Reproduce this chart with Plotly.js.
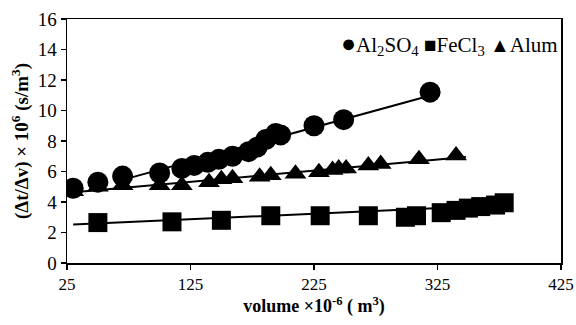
<!DOCTYPE html>
<html>
<head>
<meta charset="utf-8">
<script src="https://cdn.plot.ly/plotly-3.0.1.min.js"></script>
<style>html,body{margin:0;padding:0;background:#fff;}#chart{width:576px;height:325px;}</style>
</head>
<body>
<div id="chart"></div>
<script>
// Al2SO4 (circles)
const alX = [30, 50, 70, 100, 118, 128, 139, 148, 159, 172, 179, 186, 194, 198, 225, 249, 319];
const alY = [4.9, 5.3, 5.7, 5.9, 6.2, 6.4, 6.6, 6.8, 7.0, 7.3, 7.6, 8.1, 8.5, 8.4, 9.0, 9.4, 11.2];
// FeCl3 (squares)
const feX = [50, 110, 150, 190, 230, 269, 299, 308, 328, 340, 350, 360, 372, 379];
const feY = [2.65, 2.7, 2.8, 3.1, 3.1, 3.1, 3.0, 3.1, 3.3, 3.45, 3.6, 3.7, 3.8, 3.95];
// Alum (triangles)
const umX = [30, 50, 70, 100, 118, 140, 150, 159, 181, 190, 210, 229, 240, 245, 251, 269, 279, 310, 340];
const umY = [4.7, 5.0, 5.1, 5.1, 5.1, 5.3, 5.5, 5.55, 5.65, 5.75, 5.85, 5.95, 6.1, 6.2, 6.2, 6.4, 6.5, 6.8, 7.05];
// Trend lines (end points)
const alTrendX = [70, 320];
const alTrendY = [5.45, 11.0];
const feTrendX = [30, 380];
const feTrendY = [2.52, 3.8];
const umTrendX = [26, 348];
const umTrendY = [4.6, 6.95];
// Axis ticks
const xTicks = [25, 125, 225, 325, 425];
const yTicks = [0, 2, 4, 6, 8, 10, 12, 14, 16];
// Series names
const names = ["Al<sub>2</sub>SO<sub>4</sub>", "FeCl<sub>3</sub>", "Alum"];
const glyphs = ["●", "■", "▲"];
const glyphSizes = [25, 21, 20];

const serif = "'Liberation Serif', 'Times New Roman', Times, serif";
const lineStyle = {color: "#000", width: 2};

const traces = [
  {x: alTrendX, y: alTrendY, mode: "lines", line: lineStyle, showlegend: false, hoverinfo: "skip"},
  {x: feTrendX, y: feTrendY, mode: "lines", line: lineStyle, showlegend: false, hoverinfo: "skip"},
  {x: umTrendX, y: umTrendY, mode: "lines", line: lineStyle, showlegend: false, hoverinfo: "skip"},
  {x: alX, y: alY, mode: "markers", name: names[0], showlegend: false,
   marker: {symbol: "circle", size: 21, color: "#000"}},
  {x: feX, y: feY, mode: "markers", name: names[1], showlegend: false,
   marker: {symbol: "square", size: 19, color: "#000"}},
  {x: umX, y: umY, mode: "markers", name: names[2], showlegend: false,
   marker: {symbol: "triangle-up", size: 19, color: "#000"}}
];

const legendText = glyphs.map((g, i) =>
  '<span style="font-size:' + glyphSizes[i] + 'px">' + g + '</span>' + names[i]).join(' ');

const layout = {
  width: 576, height: 325,
  margin: {l: 67, r: 15, t: 19, b: 62},
  paper_bgcolor: "#fff", plot_bgcolor: "#fff",
  font: {family: serif, size: 17, color: "#000"},
  showlegend: false,
  annotations: [{
    xref: "paper", yref: "paper", x: 0.55, y: 0.895, xanchor: "left", yanchor: "middle",
    showarrow: false, text: legendText, font: {family: serif, size: 21, color: "#000"}
  }],
  xaxis: {
    range: [25, 425], tickvals: xTicks, ticktext: xTicks.map(String),
    showgrid: false, zeroline: false, showline: true, mirror: true,
    linecolor: "#000", linewidth: 1.5, ticks: "outside", ticklen: 5, tickwidth: 1.5, tickcolor: "#000",
    tickfont: {family: serif, size: 17, color: "#000"},
    title: {text: "<b>volume ×10<sup>-6</sup> ( m<sup>3</sup>)</b>", font: {family: serif, size: 18, color: "#000"}, standoff: 6}
  },
  yaxis: {
    range: [0, 16], tickvals: yTicks, ticktext: yTicks.map(String),
    showgrid: false, zeroline: false, showline: true, mirror: true,
    linecolor: "#000", linewidth: 1.5, ticks: "outside", ticklen: 5, tickwidth: 1.5, tickcolor: "#000",
    tickfont: {family: serif, size: 19, color: "#000"},
    title: {text: "<b>(Δt/Δv) × 10<sup>6</sup> (s/m<sup>3</sup>)</b>", font: {family: serif, size: 19, color: "#000"}, standoff: 4}
  }
};

Plotly.newPlot("chart", traces, layout, {displayModeBar: false, staticPlot: true});
</script>
</body>
</html>
